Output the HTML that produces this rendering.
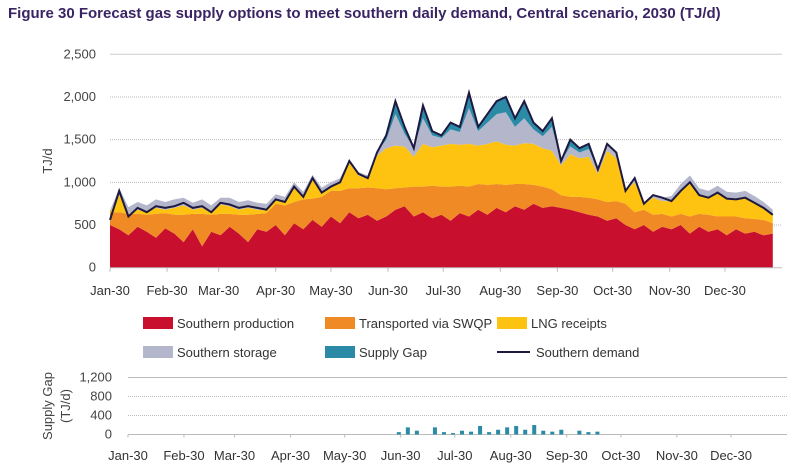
<!DOCTYPE html>
<html><head><meta charset="utf-8">
<style>
body{margin:0;background:#fff;font-family:"Liberation Sans",sans-serif;}
#wrap{position:relative;width:807px;height:474px;overflow:hidden}
#title{position:absolute;left:8px;top:5px;font-size:15px;font-weight:bold;color:#3a2463;white-space:nowrap}
svg{position:absolute;left:0;top:0}
text{font-family:"Liberation Sans",sans-serif}
</style></head><body>
<div id="wrap">
<div id="title">Figure 30 Forecast gas supply options to meet southern daily demand, Central scenario, 2030 (TJ/d)</div>
<svg id="svg" width="807" height="474"></svg>
</div>
<script>
const days=[];for(let i=0;i<=360;i+=5)days.push(i);
const monthLabels=["Jan-30","Feb-30","Mar-30","Apr-30","May-30","Jun-30","Jul-30","Aug-30","Sep-30","Oct-30","Nov-30","Dec-30"];
const monthStarts=[0,31,59,90,120,151,181,212,243,273,304,334];
const mainTicks=[0,500,1000,1500,2000,2500];
const gapTicks=[0,400,800,1200];
const production=[500,450,380,480,420,350,460,400,300,450,250,420,380,480,400,300,450,420,
500,380,520,450,560,480,600,520,650,580,620,550,
600,680,720,600,650,580,620,550,640,600,680,620,700,650,720,680,750,700,720,
700,680,650,620,600,550,580,500,450,500,420,480,
450,500,400,480,420,450,380,450,400,420,380,400];
const swqp=[150,200,250,150,200,280,180,220,320,180,380,200,250,150,220,320,180,220,
250,350,250,350,250,350,300,380,280,350,320,380,
320,250,220,350,300,380,330,400,320,350,300,350,280,320,260,300,220,250,200,
150,150,180,200,200,220,200,250,200,180,200,150,
150,130,200,150,200,150,220,150,180,150,180,120];
const lng=[0,200,0,50,30,70,40,80,110,50,70,20,110,90,60,80,50,30,
50,40,170,30,220,50,50,100,300,150,100,380,
480,500,480,350,500,450,480,500,480,500,450,480,500,470,450,480,480,450,450,
350,500,450,480,300,600,500,150,350,70,200,150,
180,270,400,220,200,280,210,200,240,190,140,100];
const storage=[20,80,80,90,80,100,90,100,90,80,100,90,80,100,90,90,80,80,
60,60,60,60,60,60,50,50,40,40,40,40,
100,370,150,100,300,140,90,170,150,420,170,250,320,380,220,290,170,140,280,
50,90,70,90,50,80,70,0,50,0,30,40,
60,80,80,80,80,80,80,80,80,80,70,60];
const gap=[0,0,0,0,0,0,0,0,0,0,0,0,0,0,0,0,0,0,
0,0,0,0,0,0,0,0,0,0,0,0,
50,150,80,0,150,50,30,80,60,180,50,100,150,180,100,200,80,60,100,
0,80,50,60,0,0,0,0,0,0,0,0,
0,0,0,0,0,0,0,0,0,0,0,0];
const demand=[560,900,600,700,650,720,700,720,760,700,720,650,760,740,700,720,700,680,
800,770,950,830,1050,880,950,1000,1250,1100,1050,1350,
1550,1950,1650,1400,1900,1600,1550,1700,1650,2050,1650,1800,1950,2000,1750,1950,1700,1600,1750,
1250,1500,1400,1450,1150,1450,1350,900,1050,750,850,820,
780,900,1000,850,820,880,810,800,820,760,700,620];

const NS="http://www.w3.org/2000/svg";
const svg=document.getElementById('svg');
function mk(tag,attrs,parent){const e=document.createElementNS(NS,tag);for(const k in attrs)e.setAttribute(k,attrs[k]);(parent||svg).appendChild(e);return e;}
const X0=110,X1=782,Y0=267.7,Y1=54.3;
const x=d=>X0+(X1-X0)*d/365;
const y=v=>Y0-(Y0-Y1)*v/2500;
const gx0=128,gx1=787,gy0=434.5,gy1=377.5;
const gxs=d=>gx0+(gx1-gx0)*d/365;
const gys=v=>gy0-(gy0-gy1)*v/1200;

mainTicks.forEach(t=>{
  if(t>0){const l=mk('line',{x1:X0,x2:X1,y1:y(t),y2:y(t),stroke:t==2500?'#c8cfc8':'#bbb','stroke-dasharray':t==2500?'':'1,1','stroke-width':1});
  }
  const tx=mk('text',{x:96,y:y(t)+4,'text-anchor':'end','font-size':13,fill:'#444'});tx.textContent=t.toLocaleString('en-US');
  
});
const series=[[production,'#c8102e','southern-production-area'],[swqp,'#f08a24','swqp-area'],[lng,'#fdc310','lng-area'],[storage,'#b4b6cc','storage-area'],[gap,'#2b8aa6','supply-gap-area']];
let base=days.map(()=>0);
series.forEach(([arr,col,name])=>{
  const top=base.map((b,i)=>b+arr[i]);
  let d='M'+days.map((dd,i)=>x(dd).toFixed(1)+','+y(top[i]).toFixed(1)).join('L');
  for(let i=days.length-1;i>=0;i--)d+='L'+x(days[i]).toFixed(1)+','+y(base[i]).toFixed(1);
  const p=mk('path',{d:d+'Z',fill:col});
  
  base=top;
});
const dl=mk('path',{d:'M'+days.map((dd,i)=>x(dd).toFixed(1)+','+y(demand[i]).toFixed(1)).join('L'),fill:'none',stroke:'#1d1940','stroke-width':2});

const ax=mk('line',{x1:X0,x2:X1,y1:Y0,y2:Y0,stroke:'#bbb'});

monthStarts.forEach((m,i)=>{
  mk('line',{x1:x(m),x2:x(m),y1:Y0,y2:Y0+4,stroke:'#bbb'});
  const t=mk('text',{x:x(m),y:295,'text-anchor':'middle','font-size':13,fill:'#333'});t.textContent=monthLabels[i];
  
  mk('line',{x1:gxs(m),x2:gxs(m),y1:gy0,y2:gy0+3,stroke:'#bbb'});
  const t2=mk('text',{x:gxs(m),y:460,'text-anchor':'middle','font-size':13,fill:'#333'});t2.textContent=monthLabels[i];
  
});
const yt=mk('text',{x:52,y:161,'text-anchor':'middle','font-size':13,fill:'#444',transform:'rotate(-90 52 161)'});yt.textContent='TJ/d';


const leg=[[143,323,'#c8102e','Southern production'],[325,323,'#f08a24','Transported via SWQP'],[497,323,'#fdc310','LNG receipts'],[143,352,'#b4b6cc','Southern storage'],[325,352,'#2b8aa6','Supply Gap']];
leg.forEach(([lx,ly,c,label])=>{
  const r=mk('rect',{x:lx,y:ly-6,width:30,height:12,fill:c});
  
  const t=mk('text',{x:lx+34,y:ly+5,'font-size':13,fill:'#333'});t.textContent=label;
  
});
mk('line',{x1:497,x2:530,y1:352,y2:352,stroke:'#1d1940','stroke-width':2});
const dt=mk('text',{x:536,y:357,'font-size':13,fill:'#333'});dt.textContent='Southern demand';


gapTicks.forEach(t=>{
  mk('line',{x1:gx0,x2:gx1,y1:gys(t),y2:gys(t),stroke:'#bbb','stroke-dasharray':t==0||t==1200?'':'1,1'});
  const tx=mk('text',{x:112,y:gys(t)+4,'text-anchor':'end','font-size':13,fill:'#444'});tx.textContent=t.toLocaleString('en-US');
  
});
days.forEach((dd,i)=>{if(gap[i]>0){
  const b=mk('rect',{x:gxs(dd)-2,y:gys(gap[i]),width:4,height:gy0-gys(gap[i]),fill:'#2b8aa6'});
  
}});
const g1=mk('text',{x:52,y:406,'text-anchor':'middle','font-size':13,fill:'#444',transform:'rotate(-90 52 406)'});g1.textContent='Supply Gap';

const g2=mk('text',{x:70,y:406,'text-anchor':'middle','font-size':13,fill:'#444',transform:'rotate(-90 70 406)'});g2.textContent='(TJ/d)';

</script>
</body></html>
